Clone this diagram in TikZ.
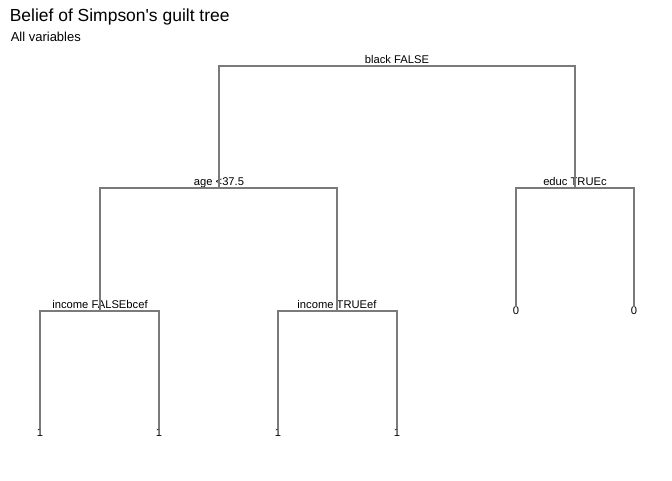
\documentclass[tikz,border=0pt]{standalone}
\usepackage{fontspec}
\setmainfont{Liberation Sans}
\usepackage{xcolor}
\usepackage{tikz}
\usetikzlibrary{positioning}
\definecolor{CLine}{HTML}{7A7A7A}
\definecolor{CInk}{HTML}{000000}

\begin{document}
\begin{tikzpicture}[x=0.75pt, y=-0.75pt,
  branch/.style={draw=CLine, line width=1pt},
  splitlabel/.style={font=\fontsize{8.4}{10}\selectfont, text=CInk, anchor=base, inner sep=0pt},
  leaflabel/.style={font=\fontsize{8.4}{10}\selectfont, text=CInk, anchor=center, inner sep=0pt},
  titletext/.style={font=\fontsize{13.1}{15}\selectfont, text=CInk, anchor=base west, inner sep=0pt},
  subtitletext/.style={font=\fontsize{9.75}{12}\selectfont, text=CInk, anchor=base west, inner sep=0pt}]
\useasboundingbox[fill=white] (0,0) rectangle (672,480);
\node[titletext] (title) at (9.5,21) {Belief of Simpson\textquotesingle s guilt tree};
\node[subtitletext] (subtitle) at (10.5,41.3) {All variables};
\coordinate (s1) at (397,66);  \node[splitlabel] (t1) at (397,63.4) {black FALSE};
\coordinate (s2) at (219,188); \node[splitlabel] (t2) at (219,185.4) {age <37.5};
\coordinate (s3) at (575,188); \node[splitlabel] (t3) at (575,185.4) {educ TRUEc};
\coordinate (s4) at (100,311); \node[splitlabel] (t4) at (100,308.4) {income FALSEbcef};
\coordinate (s5) at (337,311); \node[splitlabel] (t5) at (337,308.4) {income TRUEef};
\node[leaflabel] (l1) at (40,433) {1};
\node[leaflabel] (l2) at (159,433) {1};
\node[leaflabel] (l3) at (278,433) {1};
\node[leaflabel] (l4) at (397,433) {1};
\node[leaflabel] (l5) at (516,311) {0};
\node[leaflabel] (l6) at (634,311) {0};
\draw[branch] (s2) |- (s1) -| (s3);
\draw[branch] (s4) |- (s2) -| (s5);
\draw[branch] (l5.north) |- (s3) -| (l6.north);
\draw[branch] (l1.north) |- (s4) -| (l2.north);
\draw[branch] (l3.north) |- (s5) -| (l4.north);
\end{tikzpicture}
\end{document}
